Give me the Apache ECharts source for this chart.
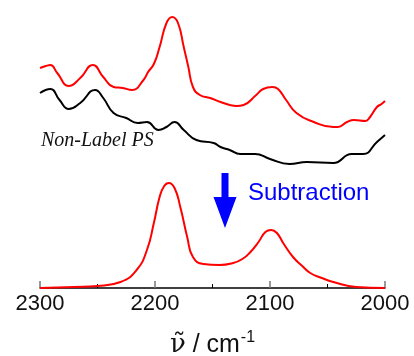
<!DOCTYPE html>
<html>
<head>
<meta charset="utf-8">
<script src="https://cdn.jsdelivr.net/npm/echarts@6/dist/echarts.min.js"></script>
<style>
  html, body { margin: 0; padding: 0; background: #fff; }
  #chart { width: 414px; height: 356px; }
</style>
</head>
<body>
<div id="chart"></div>
<script>
// 标记 PS 光谱 (上, 红)
var labeledWn = [2300, 2295, 2291, 2285, 2275, 2265, 2254, 2245, 2236, 2228, 2220, 2210, 2206, 2201, 2196, 2190, 2185, 2180, 2175, 2171, 2167, 2161, 2152, 2143, 2135, 2129, 2123, 2112, 2106, 2098, 2093, 2086, 2077, 2062, 2045, 2041, 2033, 2027, 2017, 2013, 2007, 2003, 2000];
var labeledAbs = [2.20, 2.22, 2.23, 2.15, 2.02, 2.10, 2.23, 2.11, 2.01, 2.00, 1.98, 2.08, 2.16, 2.24, 2.41, 2.65, 2.71, 2.65, 2.41, 2.21, 2.01, 1.93, 1.90, 1.86, 1.83, 1.82, 1.83, 1.93, 1.99, 2.01, 1.99, 1.88, 1.75, 1.66, 1.61, 1.61, 1.66, 1.68, 1.67, 1.71, 1.81, 1.84, 1.87];

// Non-Label PS (黑)
var plainWn = [2300, 2291, 2283, 2275, 2265, 2252, 2245, 2236, 2225, 2215, 2207, 2197, 2190, 2183, 2175, 2164, 2149, 2143, 2135, 2126, 2113, 2100, 2083, 2068, 2045, 2029, 2019, 2007, 2000];
var plainAbs = [1.95, 1.99, 1.88, 1.79, 1.85, 1.98, 1.90, 1.75, 1.70, 1.65, 1.66, 1.58, 1.61, 1.66, 1.58, 1.48, 1.45, 1.41, 1.38, 1.34, 1.34, 1.29, 1.24, 1.26, 1.25, 1.34, 1.34, 1.46, 1.53];

// 差谱 (下, 红)
var diffWn = [2300, 2270, 2250, 2230, 2216, 2207, 2201, 2196, 2192, 2188, 2183, 2178, 2172, 2167, 2158, 2144, 2132, 2124, 2117, 2110, 2104, 2099, 2094, 2088, 2080, 2072, 2065, 2055, 2045, 2025, 2000];
var diffAbs = [0.00, 0.01, 0.02, 0.06, 0.18, 0.38, 0.65, 0.91, 1.02, 1.05, 1.00, 0.81, 0.51, 0.31, 0.24, 0.23, 0.25, 0.29, 0.36, 0.46, 0.56, 0.58, 0.55, 0.44, 0.31, 0.22, 0.15, 0.10, 0.06, 0.01, 0.00];

var xTicks = [2300, 2200, 2100, 2000];

function pairs(xs, ys) {
  var out = [];
  for (var i = 0; i < xs.length; i++) {
    out.push([xs[i], ys[i]]);
  }
  return out;
}

function spectrum(name, xs, ys, color) {
  return {
    name: name,
    type: 'line',
    data: pairs(xs, ys),
    smooth: 0.5,
    symbol: 'none',
    clip: false,
    lineStyle: { color: color, width: 2 },
  };
}

var chart = echarts.init(document.getElementById('chart'));

var option = {
  animation: false,
  backgroundColor: '#fff',
  grid: { left: 40, right: 29, top: 0, bottom: 68, outerBoundsMode: 'none' },
  xAxis: {
    type: 'value',
    inverse: true,
    min: xTicks[xTicks.length - 1],
    max: xTicks[0],
    interval: 100,
    axisLine: { lineStyle: { color: '#000', width: 1.5 } },
    axisTick: { inside: true, length: 7, lineStyle: { color: '#777', width: 1.5 } },
    minorTick: { show: true, splitNumber: 2, length: 4, lineStyle: { color: '#000', width: 1 } },
    splitLine: { show: false },
    axisLabel: {
      margin: 5,
      fontSize: 22,
      fontFamily: 'Liberation Sans, Arial, sans-serif',
      color: '#111',
      formatter: function (v) {
        return String(v);
      },
    },
    name: '{v|ν̃} / cm{sup|-1}',
    nameLocation: 'middle',
    nameGap: 42,
    nameTextStyle: {
      fontSize: 25,
      fontFamily: 'Liberation Sans, Arial, sans-serif',
      color: '#111',
      rich: {
        v: { fontSize: 26, fontFamily: 'DejaVu Serif, serif', color: '#111' },
        sup: { fontSize: 16, color: '#111', padding: [0, 0, 14, 1] },
      },
    },
  },
  yAxis: {
    type: 'value',
    min: 0,
    max: 2.88,
    show: false,
  },
  series: [
    spectrum('Labeled PS', labeledWn, labeledAbs, '#ff0000'),
    spectrum('Non-Label PS', plainWn, plainAbs, '#000000'),
    spectrum('Subtraction', diffWn, diffAbs, '#ff0000'),
  ],
  graphic: [
    {
      type: 'text',
      left: 41,
      top: 131,
      style: {
        text: 'Non-Label PS',
        font: 'italic 20px "Liberation Serif", serif',
        fill: '#111',
      },
    },
    {
      type: 'text',
      left: 248,
      top: 181,
      style: {
        text: 'Subtraction',
        font: '24px "Liberation Sans", Arial, sans-serif',
        fill: '#0000ff',
      },
    },
    {
      type: 'polygon',
      shape: {
        points: [[221.5, 173], [228.5, 173], [228.5, 197], [236.5, 197], [225, 228], [213.5, 197], [221.5, 197]],
      },
      style: { fill: '#0000ff' },
    },
  ],
};

chart.setOption(option);
</script>
</body>
</html>
